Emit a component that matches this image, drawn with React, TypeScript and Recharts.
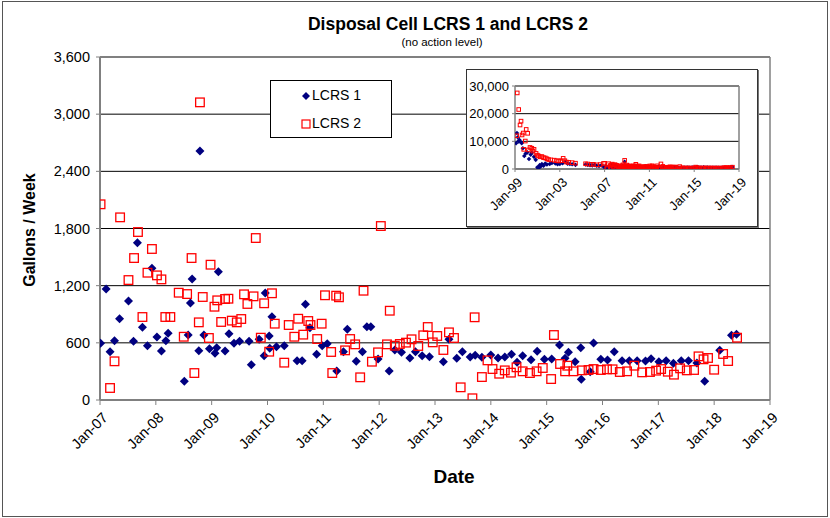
import React from "react";
import { ScatterChart, Scatter, XAxis, YAxis, CartesianGrid, ReferenceLine } from "recharts";

const FONT = "'Liberation Sans', Arial, sans-serif";

// main chart axes
const MAIN_X_TICKS = [2007, 2008, 2009, 2010, 2011, 2012, 2013, 2014, 2015, 2016, 2017, 2018, 2019];
const MAIN_Y_TICKS = [0, 600, 1200, 1800, 2400, 3000, 3600];
// inset axes
const INSET_X_TICKS = [1999, 2003, 2007, 2011, 2015, 2019];
const INSET_Y_TICKS = [0, 10000, 20000, 30000];

// [decimal year, gallons/week]
const LCRS1: [number, number][] = [
  [2007.01, 595], [2007.11, 1165], [2007.18, 507], [2007.26, 622], [2007.35, 853], [2007.51, 1039],
  [2007.6, 616], [2007.67, 1651], [2007.76, 763], [2007.85, 570], [2007.93, 1382], [2008.02, 661],
  [2008.1, 514], [2008.18, 622], [2008.22, 700], [2008.51, 196], [2008.58, 682], [2008.62, 1018],
  [2008.65, 1270], [2008.77, 518], [2008.79, 2613], [2008.86, 682], [2008.96, 539], [2009.06, 490],
  [2009.09, 549], [2009.12, 1347], [2009.24, 514], [2009.31, 696], [2009.4, 595], [2009.5, 616],
  [2009.67, 616], [2009.71, 371], [2009.85, 637], [2009.94, 465], [2009.96, 1123], [2010.03, 672],
  [2010.04, 543], [2010.08, 874], [2010.16, 560], [2010.3, 570], [2010.53, 412], [2010.62, 412],
  [2010.68, 1004], [2010.76, 759], [2010.88, 479], [2010.98, 570], [2011.07, 591], [2011.24, 304],
  [2011.36, 507], [2011.43, 742], [2011.59, 406], [2011.7, 507], [2011.78, 769], [2011.85, 769],
  [2011.98, 430], [2012.18, 304], [2012.28, 525], [2012.4, 500], [2012.55, 441], [2012.65, 507],
  [2012.77, 465], [2012.9, 455], [2013.15, 402], [2013.25, 637], [2013.39, 437], [2013.49, 507],
  [2013.63, 451], [2013.72, 469], [2013.84, 448], [2014.0, 472], [2014.13, 441], [2014.25, 451],
  [2014.37, 479], [2014.47, 395], [2014.57, 465], [2014.72, 423], [2014.83, 511], [2014.96, 427],
  [2015.09, 430], [2015.23, 577], [2015.33, 437], [2015.39, 500], [2015.51, 402], [2015.61, 549],
  [2015.62, 217], [2015.78, 297], [2015.84, 598], [2015.97, 427], [2016.09, 420], [2016.21, 507],
  [2016.35, 413], [2016.48, 413], [2016.62, 413], [2016.77, 409], [2016.87, 434], [2017.01, 402],
  [2017.14, 413], [2017.27, 385], [2017.41, 413], [2017.54, 413], [2017.69, 388], [2017.83, 196],
  [2018.1, 521], [2018.31, 679], [2018.4, 689],
];

const LCRS2: [number, number][] = [
  [2007.01, 2054], [2007.18, 126], [2007.26, 406], [2007.36, 1917], [2007.51, 1259], [2007.61, 1490],
  [2007.68, 1763], [2007.76, 871], [2007.85, 1336], [2007.93, 1585], [2008.02, 1308], [2008.1, 1266],
  [2008.17, 871], [2008.26, 871], [2008.41, 1126], [2008.5, 664], [2008.56, 1112], [2008.64, 1490],
  [2008.69, 283], [2008.77, 815], [2008.79, 3124], [2008.84, 1081], [2008.95, 651], [2008.98, 1420],
  [2009.05, 979], [2009.1, 1046], [2009.17, 819], [2009.24, 1060], [2009.3, 1063], [2009.36, 833],
  [2009.45, 815], [2009.53, 850], [2009.58, 1109], [2009.64, 1008], [2009.75, 1088], [2009.79, 1700],
  [2009.88, 654], [2009.94, 1015], [2010.03, 507], [2010.08, 1120], [2010.13, 801], [2010.3, 392],
  [2010.38, 787], [2010.48, 664], [2010.55, 853], [2010.64, 686], [2010.73, 829], [2010.77, 787],
  [2010.89, 640], [2010.97, 801], [2011.03, 1099], [2011.14, 504], [2011.16, 283], [2011.23, 1095],
  [2011.28, 1078], [2011.39, 521], [2011.48, 640], [2011.57, 584], [2011.66, 238], [2011.72, 1147],
  [2011.87, 402], [2011.98, 500], [2012.03, 1826], [2012.14, 584], [2012.19, 937], [2012.28, 570],
  [2012.37, 588], [2012.48, 602], [2012.58, 637], [2012.7, 567], [2012.79, 679], [2012.87, 766],
  [2012.96, 605], [2013.04, 672], [2013.15, 525], [2013.25, 710], [2013.34, 651], [2013.46, 133],
  [2013.67, 18], [2013.71, 868], [2013.84, 241], [2013.94, 416], [2014.03, 325], [2014.15, 276],
  [2014.25, 311], [2014.36, 287], [2014.46, 343], [2014.57, 301], [2014.7, 283], [2014.82, 301],
  [2014.93, 336], [2015.08, 220], [2015.13, 682], [2015.24, 378], [2015.33, 301], [2015.37, 360],
  [2015.48, 301], [2015.63, 311], [2015.75, 315], [2015.84, 325], [2015.97, 315], [2016.08, 322],
  [2016.18, 322], [2016.31, 294], [2016.44, 301], [2016.57, 360], [2016.71, 290], [2016.85, 294],
  [2016.96, 308], [2017.05, 325], [2017.17, 297], [2017.28, 266], [2017.39, 332], [2017.51, 311],
  [2017.64, 315], [2017.72, 458], [2017.81, 427], [2017.89, 441], [2018.0, 318], [2018.16, 483],
  [2018.25, 409], [2018.41, 654],
];

// pre-2007 record, only shown in the inset
const LCRS1_EARLY: [number, number][] = [
  [1999.1, 9300], [1999.17, 13000], [1999.25, 11500], [1999.3, 10000], [1999.4, 10500], [1999.5, 9800],
  [1999.6, 9300], [1999.7, 7500], [1999.83, 4700], [1999.95, 5600], [2000.1, 6000], [2000.25, 3600],
  [2000.4, 5200], [2000.5, 5900], [2000.7, 4400], [2000.85, 3300], [2001.0, 600], [2001.1, 300],
  [2001.2, 1400], [2001.3, 900], [2001.4, 1800], [2001.55, 1200], [2001.7, 2000], [2001.85, 1600],
  [2002.1, 1800], [2002.3, 2200], [2002.6, 2000], [2002.8, 1700], [2003.0, 1800], [2003.25, 2100],
  [2003.5, 2600], [2003.7, 1900], [2003.9, 1800], [2004.1, 1700], [2004.4, 1500], [2005.3, 1600],
  [2005.5, 1500], [2005.7, 1400], [2005.9, 1300], [2006.1, 1500], [2006.3, 1200], [2006.5, 1100],
  [2006.7, 1300], [2006.9, 900],
];

const LCRS2_EARLY: [number, number][] = [
  [1999.15, 12000], [1999.2, 27500], [1999.33, 21500], [1999.45, 15900], [1999.54, 17300], [1999.63, 12300],
  [1999.73, 13000], [1999.78, 7100], [1999.92, 10100], [2000.0, 14300], [2000.13, 12900], [2000.2, 6900],
  [2000.34, 7800], [2000.5, 7500], [2000.6, 6500], [2000.7, 7100], [2000.88, 5650], [2001.0, 5000],
  [2001.1, 4700], [2001.25, 4400], [2001.4, 4500], [2001.55, 4100], [2001.7, 4000], [2001.85, 3700],
  [2002.0, 3400], [2002.2, 3300], [2002.5, 3200], [2002.7, 3000], [2002.9, 2900], [2003.1, 3000],
  [2003.3, 3850], [2003.45, 3000], [2003.6, 2500], [2003.8, 2400], [2004.1, 2300], [2004.4, 2100],
  [2005.3, 1900], [2005.5, 1800], [2005.8, 1700], [2006.0, 1700], [2006.3, 1500], [2006.6, 1600],
  [2006.9, 2000],
];

const toPts = (a: [number, number][]) => a.map(([x, y]) => ({ x, y }));

const dateLabel = (v: number) => `Jan-${String(Math.round(v) % 100).padStart(2, "0")}`;
const numLabel = (v: number) => v.toLocaleString("en-US");

const makeDiamond = (r: number) => (p: any) => {
  const { cx, cy } = p;
  return <path d={`M${cx},${cy - r}L${cx + r},${cy}L${cx},${cy + r}L${cx - r},${cy}Z`} fill="#000080" />;
};
const makeSquare = (r: number, sw: number) => (p: any) => {
  const { cx, cy } = p;
  return <rect x={cx - r} y={cy - r} width={r * 2} height={r * 2} fill="none" stroke="#ff0000" strokeWidth={sw} />;
};

const DateTick = ({ x, y, payload, fs, dx, dy }: any) => (
  <g transform={`translate(${x + dx},${y + dy})`}>
    <text transform="rotate(-45)" textAnchor="end" fontSize={fs} fontFamily={FONT} fill="#000" dy="0.35em">
      {dateLabel(payload.value)}
    </text>
  </g>
);

function Inset() {
  return (
    <div style={{ position: "absolute", left: 466, top: 69, width: 292, height: 158, boxSizing: "border-box",
      background: "#fff", border: "1px solid #333", boxShadow: "1px 1px 0 #777" }}>
      <ScatterChart width={290} height={156} margin={{ top: 16, right: 18, left: 0, bottom: 17 }}>
        <CartesianGrid vertical={false} stroke="#000" strokeWidth={1} />
        <XAxis type="number" dataKey="x" domain={[1999, 2019]} ticks={INSET_X_TICKS} height={40}
          tick={<DateTick fs={13} dx={5} dy={6} />} tickSize={3} interval={0}
          axisLine={{ stroke: "#808080", strokeWidth: 1.5 }} tickLine={{ stroke: "#808080" }} allowDataOverflow />
        <YAxis type="number" dataKey="y" domain={[0, 30000]} ticks={INSET_Y_TICKS} width={48}
          tickFormatter={numLabel} tick={{ fontSize: 13, fontFamily: FONT, fill: "#000", dx: -1 }} tickSize={3}
          axisLine={{ stroke: "#808080", strokeWidth: 1.5 }} tickLine={{ stroke: "#808080" }} allowDataOverflow />
        <ReferenceLine y={30000} stroke="#808080" strokeWidth={1.5} />
        <ReferenceLine x={2019} stroke="#808080" strokeWidth={1.5} />
        <Scatter data={toPts([...LCRS1_EARLY, ...LCRS1])} shape={makeDiamond(2.3)} isAnimationActive={false} />
        <Scatter data={toPts([...LCRS2_EARLY, ...LCRS2])} shape={makeSquare(1.8, 1)} isAnimationActive={false} />
      </ScatterChart>
    </div>
  );
}

export default function App() {
  return (
    <div style={{ position: "absolute", left: 0, top: 0, width: 830, height: 518, background: "#fff", fontFamily: FONT }}>
      <div style={{ position: "absolute", left: 2, top: 1, width: 826, height: 516, boxSizing: "border-box", border: "1px solid #555" }} />
      <ScatterChart width={830} height={518} margin={{ top: 57, right: 60, left: 40, bottom: 68 }}>
        <CartesianGrid vertical={false} stroke="#000" strokeWidth={1} />
        <XAxis type="number" dataKey="x" domain={[2007, 2019]} ticks={MAIN_X_TICKS} height={50}
          tick={<DateTick fs={14.5} dx={5} dy={8} />} tickSize={5} interval={0}
          axisLine={{ stroke: "#808080", strokeWidth: 2 }} tickLine={{ stroke: "#808080" }} allowDataOverflow />
        <YAxis type="number" dataKey="y" domain={[0, 3600]} ticks={MAIN_Y_TICKS} width={60}
          tickFormatter={numLabel} tick={{ fontSize: 14.5, fontFamily: FONT, fill: "#000", dx: -4 }} tickSize={4}
          axisLine={{ stroke: "#808080", strokeWidth: 2 }} tickLine={{ stroke: "#808080" }} allowDataOverflow />
        <ReferenceLine y={3600} stroke="#808080" strokeWidth={1.5} />
        <ReferenceLine x={2019} stroke="#808080" strokeWidth={1.5} />
        <Scatter name="LCRS 1" data={toPts(LCRS1)} shape={makeDiamond(4.5)} isAnimationActive={false} />
        <Scatter name="LCRS 2" data={toPts(LCRS2)} shape={makeSquare(4.3, 1.3)} isAnimationActive={false} />
      </ScatterChart>

      <div style={{ position: "absolute", left: 0, width: 896, top: 14, textAlign: "center", fontSize: 17.5, fontWeight: "bold" }}>
        Disposal Cell LCRS 1 and LCRS 2
      </div>
      <div style={{ position: "absolute", left: 0, width: 884, top: 36, textAlign: "center", fontSize: 11.5 }}>
        (no action level)
      </div>
      <div style={{ position: "absolute", left: 30, top: 230, transform: "translate(-50%,-50%) rotate(-90deg)",
        fontSize: 16, fontWeight: "bold", whiteSpace: "nowrap" }}>
        Gallons / Week
      </div>
      <div style={{ position: "absolute", left: 454, top: 477, transform: "translate(-50%,-50%)", fontSize: 19, fontWeight: "bold" }}>
        Date
      </div>

      <div style={{ position: "absolute", left: 270, top: 80, width: 122, height: 58, boxSizing: "border-box",
        border: "1px solid #000", background: "#fff", fontSize: 14 }}>
        <svg width={10} height={10} style={{ position: "absolute", left: 30, top: 10 }}>
          <path d="M5,1L9,5L5,9L1,5Z" fill="#000080" />
        </svg>
        <div style={{ position: "absolute", left: 41, top: 6 }}>LCRS 1</div>
        <svg width={10} height={10} style={{ position: "absolute", left: 30, top: 38 }}>
          <rect x={1} y={1} width={8} height={8} fill="none" stroke="#ff0000" strokeWidth={1.2} />
        </svg>
        <div style={{ position: "absolute", left: 41, top: 34 }}>LCRS 2</div>
      </div>

      <Inset />
    </div>
  );
}
